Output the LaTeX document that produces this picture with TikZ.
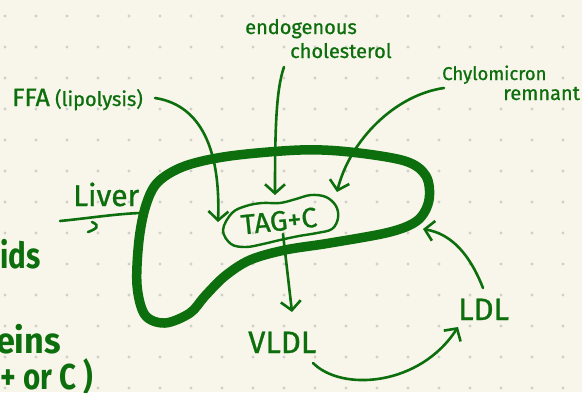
\documentclass[tikz,border=0pt]{standalone}
\usepackage{fontspec}
\usepackage{graphicx}
\setmainfont{Fira Sans}
\newfontfamily\handfont{Fira Sans}[FakeBold=0.9]
\usetikzlibrary{arrows.meta}
\definecolor{ink}{RGB}{12,110,12}
\definecolor{paper}{RGB}{248,246,234}
\definecolor{dotc}{RGB}{208,207,200}
\begin{document}
\begin{tikzpicture}[x=1pt,y=-1pt,
  lbl/.style={text=ink, inner sep=0pt, font=\handfont\fontsize{20}{20}\selectfont},
  biglbl/.style={text=ink, inner sep=0pt, font=\handfont\fontsize{31}{31}\selectfont},
  lefttxt/.style={text=ink, inner sep=0pt, font=\fontsize{36}{36}\selectfont\bfseries},
  conn/.style={draw=ink, line width=2.6pt, line cap=round, line join=round,
    -{Straight Barb[length=9pt,width=20pt]}},
  outline/.style={draw=ink, line width=9.5pt, line join=round},
  blob/.style={draw=ink, line width=2.4pt, line join=round}]
\useasboundingbox (0,0) rectangle (582,392);
\clip (0,0) rectangle (582,392);
\fill[paper] (0,0) rectangle (582,392);
% dot grid
\foreach \i in {0,...,18}{
  \foreach \j in {0,...,12}{
    \fill[dotc] ({5+31*\i},{16+31*\j}) circle (1.6pt);
  }
}
% left partial headings
\node[lefttxt, anchor=base east] (lipids) at (41,268) {\scalebox{0.82}[1]{Lipids}};
\node[lefttxt, anchor=base east] (lipoproteins) at (61,353) {\scalebox{0.95}[1]{Lipoproteins}};
\node[lefttxt, anchor=base east] (tagorc) at (93,389) {\scalebox{0.82}[1]{(TAG+ or C )}};
% liver outline
\draw[outline] plot[smooth cycle, tension=0.55] coordinates {
  (158,182) (185,166) (230,156) (300,150) (350,152) (405,161) (426,176)
  (429,200) (418,220) (390,232) (330,243) (285,250) (250,260) (225,276)
  (205,296) (190,313) (165,323) (145,315) (137,285) (139,240) (146,205)};
% TAG + C blob
\draw[blob] plot[smooth cycle, tension=0.6] coordinates {
  (223,230) (232,213) (246,206) (262,203) (280,203) (296,199) (311,195)
  (326,197) (336,206) (338,218) (332,229) (317,233) (299,236) (280,240)
  (263,244) (246,247) (231,244)};
\node[biglbl, font=\handfont\fontsize{28}{28}\selectfont, rotate=6] (tagc) at (279,221) {TAG+C};
% labels
\node[lbl, anchor=base west] (endo) at (245,34) {endogenous};
\node[lbl, anchor=base west] (chol) at (290,58) {cholesterol};
\node[lbl, anchor=base west, font=\handfont\fontsize{18.5}{18.5}\selectfont] (chylo) at (442,80) {Chylomicron};
\node[lbl, anchor=base west] (remn) at (503,100) {remnant};
\node[lbl, anchor=base west] (ffa) at (12,106) {{\fontsize{25}{25}\selectfont FFA} (lipolysis)};
\node[biglbl, anchor=base west, font=\handfont\fontsize{30}{30}\selectfont] (liver) at (73,206) {Liver};
\node[biglbl, anchor=base west] (vldl) at (248,353) {VLDL};
\node[biglbl, anchor=base west] (ldl) at (458,320) {LDL};
% connector end points
\coordinate (ffaS) at (155,98);
\coordinate (ffaE) at (218,222);
\coordinate (endoS) at (284,67);
\coordinate (endoE) at (275,195);
\coordinate (chyS) at (444,88);
\coordinate (chyE) at (337,192);
\coordinate (tagS) at (283,234);
\coordinate (vldlE) at (292,312);
\coordinate (vldlS) at (313,363);
\coordinate (ldlE) at (458,327);
\coordinate (ldlS) at (483,288);
\coordinate (livE) at (423,229);
% connectors
\draw[conn] (ffaS) .. controls (195,104) and (221,140) .. (ffaE);
\draw[conn] (endoS) .. controls (276,90) and (275,130) .. (endoE);
\draw[conn] (chyS) .. controls (395,95) and (350,140) .. (chyE);
\draw[conn] (tagS) -- (vldlE);
\draw[conn] (vldlS) .. controls (342,392) and (420,386) .. (ldlE);
\draw[conn] (ldlS) .. controls (470,255) and (452,234) .. (livE);
% liver underline
\coordinate (ulA) at (60,221);
\coordinate (ulB) at (140,213);
\coordinate (hkA) at (88,232);
\coordinate (hkB) at (92,222);
\draw[ink, line width=2.6pt, line cap=round] (ulA) .. controls (90,218) and (115,214) .. (ulB);
\draw[ink, line width=2.6pt, line cap=round] (hkA) .. controls (96,229) and (101,226) .. (hkB);
\end{tikzpicture}
\end{document}
